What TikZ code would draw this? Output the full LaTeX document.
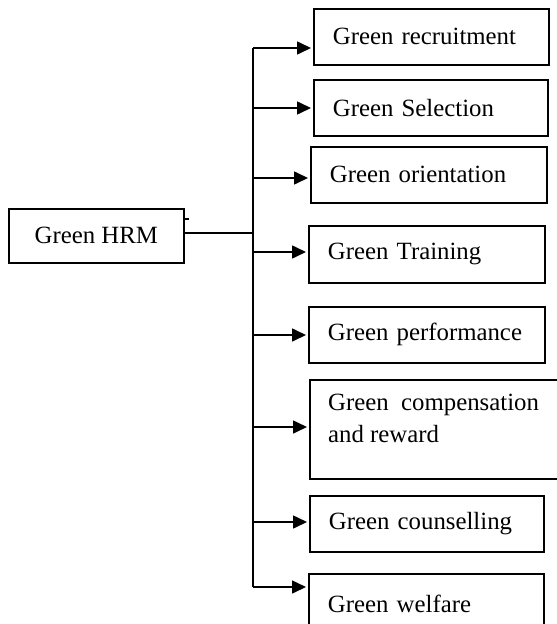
\documentclass[tikz,border=0pt]{standalone}
\usepackage{fontspec}
\setmainfont{Liberation Serif}
\usetikzlibrary{arrows.meta,calc}
\begin{document}
\begin{tikzpicture}[x=1pt,y=-1pt,
  box/.style={draw, line width=1.7pt, anchor=north west, inner xsep=19pt, inner ysep=0pt,
              align=left, font=\fontsize{24.8}{32}\selectfont},
  hrmbox/.style={draw, line width=1.7pt, anchor=north west, inner sep=0pt,
              font=\fontsize{24.8}{32}\selectfont},
  txt/.style={anchor=north west, inner sep=0pt, align=left, font=\fontsize{24.8}{32}\selectfont},
  conn/.style={line width=1.6pt},
  arr/.style={line width=1.6pt, -{Triangle[length=14pt,width=13pt]}, shorten >=2pt}]
\useasboundingbox (0,0) rectangle (557,624);

% root box
\node[hrmbox, minimum width=175pt, minimum height=54pt] (hrm) at (8,208) {Green HRM};

% child boxes
\node[box, minimum width=235pt, minimum height=56pt, text width=197pt] (r1) at (313,8) {Green recruitment};
\node[box, minimum width=234pt, minimum height=56pt, text width=196pt] (r2) at (313,79) {Green Selection};
\node[box, minimum width=236pt, minimum height=56pt, text width=198pt] (r3) at (310,146) {Green orientation};
\node[box, minimum width=236pt, minimum height=57pt, text width=198pt] (r4) at (308,225) {Green Training};
\node[box, minimum width=236pt, minimum height=56pt, text width=198pt] (r5) at (308,306) {Green performance};
\node[box, minimum width=260pt, minimum height=99pt, text width=222pt] (r6) at (309,379) {};
\node[txt] (r6t) at (328,394) {Green~ compensation\\and reward};
\node[box, minimum width=234pt, minimum height=56pt, text width=196pt] (r7) at (309,495) {Green counselling};
\node[box, minimum width=235pt, minimum height=60pt, text width=197pt] (r8) at (308,573) {Green welfare};

% trunk coordinates
\coordinate (t1) at (253,48);
\coordinate (t2) at (253,108);
\coordinate (t3) at (253,178);
\coordinate (h)  at (253,233);
\coordinate (t4) at (253,252);
\coordinate (t5) at (253,335);
\coordinate (t6) at (253,427);
\coordinate (t7) at (253,522);
\coordinate (t8) at (253,587);
\coordinate (tick) at (189,219);

% trunk and root connector
\draw[conn] (t1) -- (t8);
\draw[conn] (hrm.east |- h) -- (h);
\draw[conn] (hrm.east |- tick) -- (tick);

% arrows
\draw[arr] (t1) -- (r1.west |- t1);
\draw[arr] (t2) -- (r2.west |- t2);
\draw[arr] (t3) -- (r3.west |- t3);
\draw[arr] (t4) -- (r4.west |- t4);
\draw[arr] (t5) -- (r5.west |- t5);
\draw[arr] (t6) -- (r6.west |- t6);
\draw[arr] (t7) -- (r7.west |- t7);
\draw[arr] (t8) -- (r8.west |- t8);
\end{tikzpicture}
\end{document}
